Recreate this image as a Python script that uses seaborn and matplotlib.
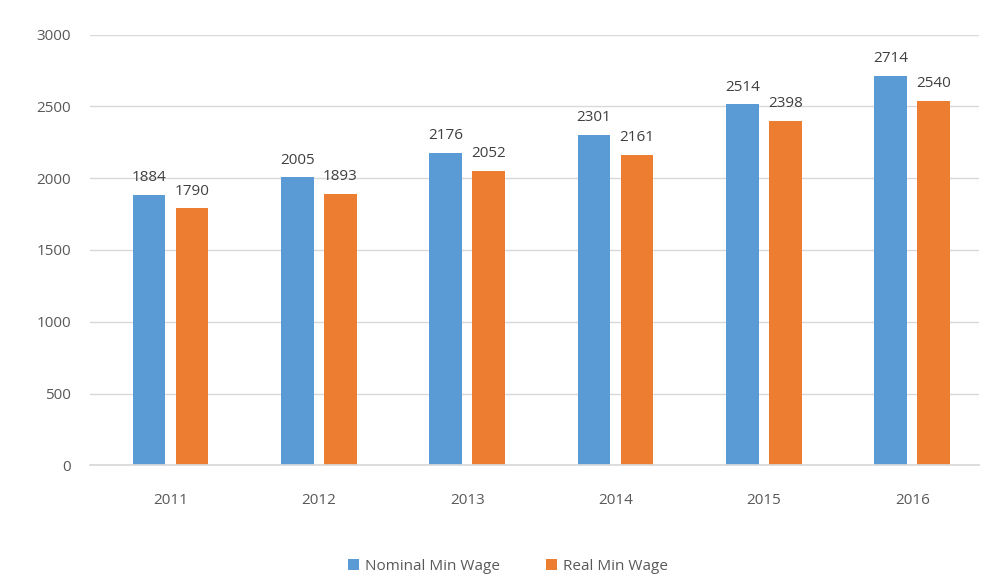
import matplotlib
matplotlib.use("Agg")
import matplotlib.pyplot as plt
import seaborn as sns
import pandas as pd

years = ["2011", "2012", "2013", "2014", "2015", "2016"]
nominal = [1884, 2005, 2176, 2301, 2514, 2714]
real = [1790, 1893, 2052, 2161, 2398, 2540]
series_names = ["Nominal Min Wage", "Real Min Wage"]
yticks = [0, 500, 1000, 1500, 2000, 2500, 3000]

df = pd.DataFrame({
    "Year": years * 2,
    "Value": nominal + real,
    "Series": [series_names[0]] * len(years) + [series_names[1]] * len(years),
})

sns.set_theme(style="white")
plt.rcParams["font.family"] = ["Open Sans", "DejaVu Sans"]

fig = plt.figure(figsize=(9.82, 5.78), dpi=100)
ax = fig.add_axes([0.092, 0.195, 0.905, 0.745])

sns.barplot(data=df, x="Year", y="Value", hue="Series", order=years,
            hue_order=series_names, palette=["#5B9BD5", "#ED7D31"],
            saturation=1, linewidth=0, width=0.58, gap=0.24, ax=ax, legend=True)

for c in ax.containers:
    ax.bar_label(c, labels=[f"{int(v)}" for v in c.datavalues], padding=7,
                 fontsize=11, color="#404040")

ax.set_ylim(0, 3000)
ax.set_yticks(yticks)
ax.set_xlim(-0.54, 5.45)
ax.yaxis.grid(True, color="#D9D9D9", linewidth=1)
ax.set_axisbelow(True)
for s in ["top", "right", "left"]:
    ax.spines[s].set_visible(False)
ax.spines["bottom"].set_color("#D9D9D9")
ax.set_xlabel("")
ax.set_ylabel("")
ax.tick_params(axis="y", length=0, labelsize=11, colors="#595959", pad=14)
ax.tick_params(axis="x", length=0, labelsize=11, colors="#595959", pad=20)

leg = ax.legend(loc="upper center", bbox_to_anchor=(0.47, -0.185), ncol=2,
                frameon=False, fontsize=11, handlelength=0.7, handleheight=0.7,
                columnspacing=3, handletextpad=0.4)
for t in leg.get_texts():
    t.set_color("#595959")

fig.savefig("out.png", dpi=100)
